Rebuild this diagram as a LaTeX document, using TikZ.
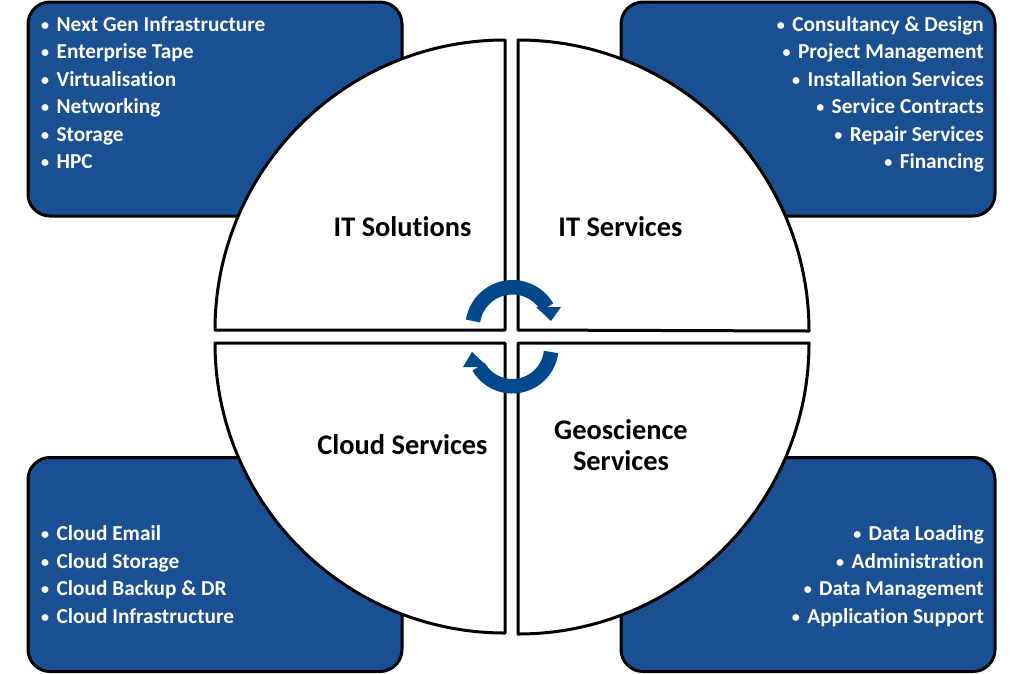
\documentclass[tikz,border=0pt]{standalone}
\usepackage{fontspec}
\setmainfont{Carlito}[Ligatures=CommonOff]
\usepackage{tikz}
\definecolor{boxblue}{RGB}{26,80,145}
\definecolor{arrowblue}{RGB}{0,72,140}
\newcommand{\bul}{\raisebox{1pt}{\fontsize{16}{16}\selectfont\textbullet}\hspace{7.5pt}}

\begin{document}
\begin{tikzpicture}[
      x=1pt,y=1pt,
      infobox/.style={
         draw=black,
         fill=boxblue,
         line width=3pt,
         rounded corners=22pt,
         inner sep=0pt,
         minimum width=374pt,
         minimum height=214pt},
      quarter/.style={
         draw=black,
         fill=white,
         line join=round,
         line width=3pt},
      itemtext/.style={
         text=white,
         inner sep=0pt,
         font=\fontsize{21.3}{24}\selectfont\bfseries},
      maintext/.style={
         text=black,
         inner sep=0pt,
         align=center,
         font=\fontsize{28.4}{31}\selectfont\bfseries},
      cyclearc/.style={
         draw=arrowblue,
         line width=14.5pt},
      cyclehead/.style={
         fill=arrowblue}
      ]
      \useasboundingbox (0,0) rectangle (1024,-673);

      \node[infobox] (boxtl) at (215,-109) {};
      \node[infobox] (boxtr) at (808,-109) {};
      \node[infobox] (boxbl) at (215,-564.5) {};
      \node[infobox] (boxbr) at (808,-564.5) {};

      \draw[quarter] (505,-330) -- (215,-330) arc (180:90:290) -- cycle;
      \draw[quarter] (518,-330) -- (518,-40) arc (90:0:291) -- cycle;
      \draw[quarter] (505,-343) -- (505,-633) arc (270:180:290) -- cycle;
      \draw[quarter] (518,-343) -- (809,-343) arc (0:-90:291) -- cycle;

      \foreach \n/\y/\txt in {% left column
         a/31/Next Gen Infrastructure,
         b/58.5/Enterprise Tape,
         c/86/Virtualisation,
         d/113/Networking,
         e/141/Storage,
         f/168/HPC,
         g/540/Cloud Email,
         h/568/Cloud Storage,
         i/595/Cloud Backup \& DR,
         j/623/Cloud Infrastructure}
         \node[itemtext,anchor=base west] (left\n) at (41,-\y) {\bul\txt};

      \foreach \n/\y/\txt in {% right column
         a/31/Consultancy \& Design,
         b/58.5/Project Management,
         c/86/Installation Services,
         d/113/Service Contracts,
         e/141/Repair Services,
         f/168/Financing,
         g/540/Data Loading,
         h/568/Administration,
         i/595/Data Management,
         j/623/Application Support}
         \node[itemtext,anchor=base east] (right\n) at (984,-\y) {\bul\txt};

      \node[maintext] (solutions) at (402.5,-227) {IT Solutions};
      \node[maintext] (services) at (620.5,-227) {IT Services};
      \node[maintext] (cloud) at (402.5,-445) {Cloud Services};
      \node[maintext] (geo) at (621,-445) {Geoscience\\Services};

      \draw[cyclearc] (473,-321) arc (171:30:40);
      \fill[cyclehead] (561,-307) -- (551,-321) -- (536,-307) -- cycle;
      \draw[cyclearc] (551,-352) arc (-7:-150:39);
      \fill[cyclehead] (472,-352) -- (463,-367) -- (488,-367) -- cycle;

\end{tikzpicture}
\end{document}
